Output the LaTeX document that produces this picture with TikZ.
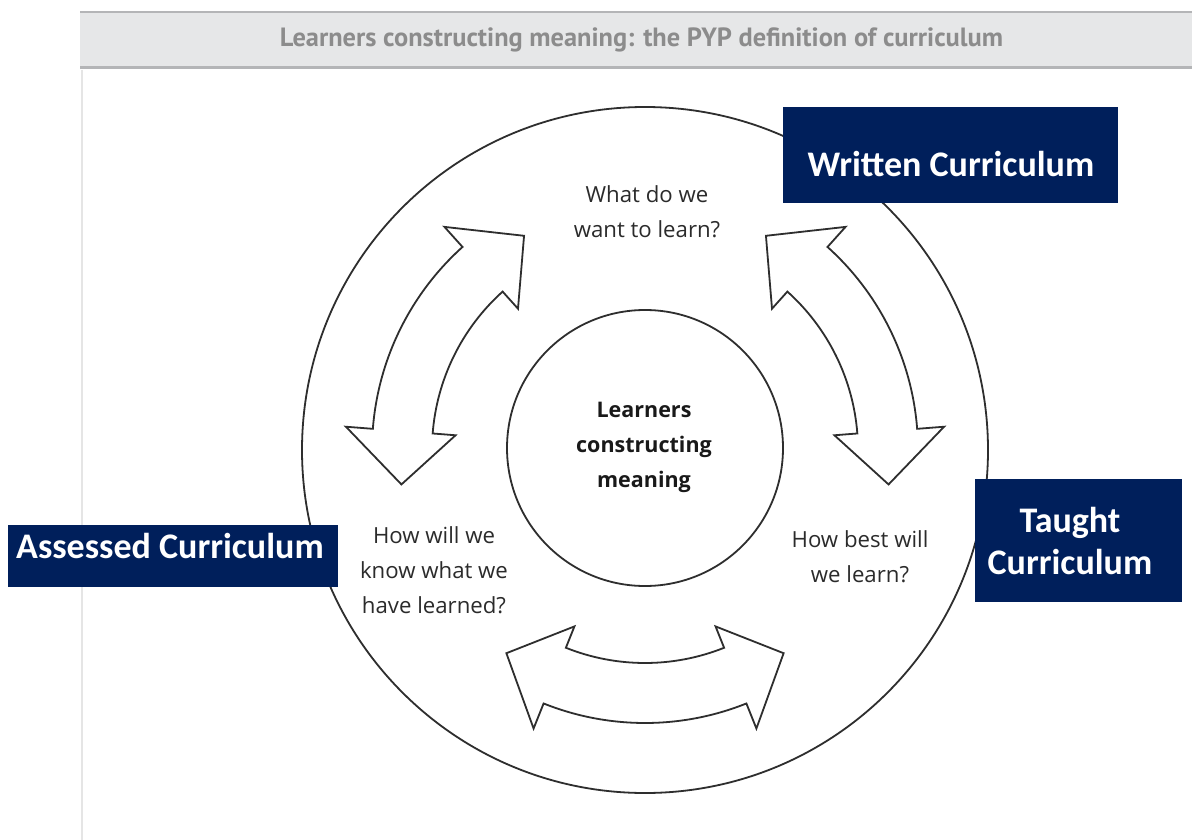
\documentclass[tikz,border=0pt]{standalone}
\usepackage{fontspec}
\setmainfont{Open Sans}
\newfontfamily\titlefont{PT Sans}
\newfontfamily\labelfont{Carlito}
\usetikzlibrary{calc}

\definecolor{pypnavy}{HTML}{001F5B}
\definecolor{bandfill}{HTML}{E6E7E8}
\definecolor{bandrule}{HTML}{B4B5B7}
\definecolor{titlegray}{HTML}{8C8C8C}
\definecolor{inkgray}{HTML}{2E2E2E}
\definecolor{qgray}{HTML}{2B2B2B}

% curved double arrow centred on angle #1 around the point (C)
\newcommand\cyclearrow[1]{%
  \draw[arrowshape]
    ($(C)+(#1+34.3:246)$) -- ($(C)+(#1+21.8:300)$) -- ($(C)+(#1+21.8:273)$)
    arc[start angle=#1+21.8, end angle=#1-21.8, radius=273]
    -- ($(C)+(#1-21.8:300)$) -- ($(C)+(#1-34.3:246)$) -- ($(C)+(#1-21.8:190)$)
    -- ($(C)+(#1-21.8:213)$)
    arc[start angle=#1-21.8, end angle=#1+21.8, radius=213]
    -- ($(C)+(#1+21.8:190)$) -- cycle;}

\tikzset{
  ring/.style={draw=inkgray, line width=1.8},
  arrowshape/.style={draw=inkgray, line width=1.8, fill=white, line join=miter},
  question/.style={text=qgray, align=center, font=\fontsize{22.2}{35}\selectfont, anchor=base},
  coretext/.style={text=black!90, align=center, font=\bfseries\fontsize{21.5}{35}\selectfont, anchor=base},
  curbox/.style={fill=pypnavy, inner sep=0},
  curtext/.style={text=white, align=center, anchor=base, font=\labelfont\bfseries\fontsize{36}{42}\selectfont},
  titletext/.style={text=titlegray, font=\titlefont\bfseries\fontsize{26.4}{30}\selectfont}
}

\begin{document}
\begin{tikzpicture}[x=1pt,y=1pt]
\useasboundingbox (0,0) rectangle (1192,-840);
\fill[white] (0,0) rectangle (1192,-840);

% title band
\fill[bandfill] (80,-12) rectangle (1192,-68);
\draw[bandrule, line width=2.5] (80,-12) -- (1192,-12);
\draw[bandrule, line width=3] (80,-68) -- (1192,-68);
\node[titletext] (title) at (641.5,-40) {Learners constructing meaning: the PYP definition of curriculum};

% page edge
\draw[black!10, line width=1.2] (82,-70) -- (82,-840);

% rings
\coordinate (C) at (645,-450);
\draw[ring] (C) circle[radius=343];
\node[ring, circle, minimum size=276, inner sep=0] (core) at (645,-448) {};
\node[coretext] (coretxt) at (644,-487) {Learners\\constructing\\meaning};

% three curved double arrows
\cyclearrow{153.75}
\cyclearrow{26.25}
\cyclearrow{270}

% questions
\node[question] (qwhat) at (647,-237) {What do we\\want to learn?};
\node[question] (qhow) at (860,-582) {How best will\\we learn?};
\node[question] (qknow) at (434,-613) {How will we\\know what we\\have learned?};

% curriculum labels
\node[curbox, minimum width=335, minimum height=96] (written) at (950.5,-155) {};
\node[curtext] (writtentxt) at (951,-177) {Written Curriculum};

\node[curbox, minimum width=207, minimum height=123] (taught) at (1078.5,-540.5) {};
\node[curtext] (taughttxt) at (1070,-574) {Taught\\Curriculum};

\node[curbox, minimum width=330, minimum height=62] (assessed) at (173,-556) {};
\node[curtext] (assessedtxt) at (170,-558) {Assessed Curriculum};
\end{tikzpicture}
\end{document}
